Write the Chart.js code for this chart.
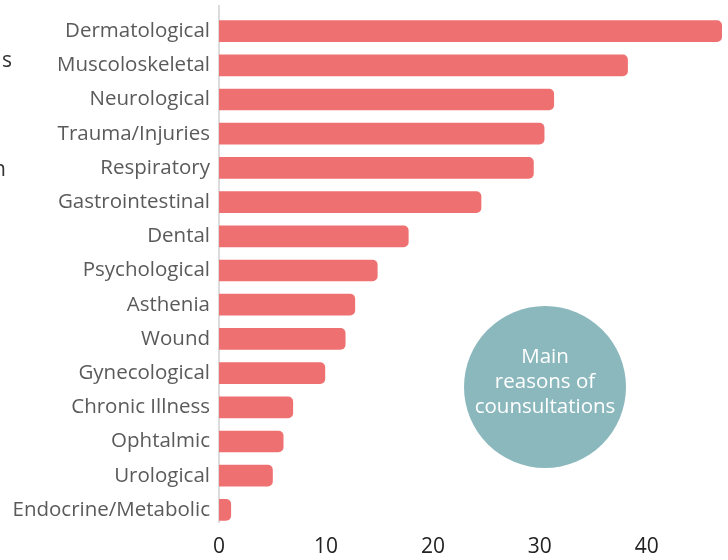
<!DOCTYPE html>
<html>
<head>
<meta charset="utf-8">
<script src="https://cdn.jsdelivr.net/npm/chart.js@4"></script>
<style>
  html, body { margin: 0; padding: 0; background: #fff; }
  #wrap { width: 728px; height: 560px; position: relative; }
</style>
</head>
<body>
<div id="wrap"><canvas id="bar-chart"></canvas></div>
<script>
const reasons = ["Dermatological", "Muscoloskeletal", "Neurological", "Trauma/Injuries",
  "Respiratory", "Gastrointestinal", "Dental", "Psychological", "Asthenia", "Wound",
  "Gynecological", "Chronic Illness", "Ophtalmic", "Urological", "Endocrine/Metabolic"];
const counts = [47, 38.2, 31.3, 30.4, 29.4, 24.5, 17.7, 14.8, 12.7, 11.8, 9.9, 6.9, 6.0, 5.0, 1.1];
const xTicks = [0, 10, 20, 30, 40];
const bubbleLines = ["Main", "reasons of", "counsultations"];

const FONT = "'Open Sans', sans-serif";

// axis line, teal bubble + clipped text bits on the left edge
const extras = {
  id: 'extras',
  beforeDatasetsDraw(chart) {
    const ctx = chart.ctx, a = chart.chartArea;
    const x0 = chart.scales.x.getPixelForValue(0);
    ctx.save();
    ctx.strokeStyle = '#d0d0d0';
    ctx.lineWidth = 1.5;
    ctx.beginPath();
    ctx.moveTo(x0, a.top - 9);
    ctx.lineTo(x0, a.bottom - 4);
    ctx.stroke();
    ctx.restore();
  },
  afterDraw(chart) {
    const ctx = chart.ctx;
    ctx.save();
    ctx.fillStyle = '#8bb8bd';
    ctx.beginPath();
    ctx.arc(545, 387, 81, 0, Math.PI * 2);
    ctx.fill();
    ctx.fillStyle = '#fff';
    ctx.font = "20.5px " + FONT;
    ctx.textAlign = 'center';
    ctx.textBaseline = 'middle';
    bubbleLines.forEach((l, i) => ctx.fillText(l, 545, 357 + i * 25));

    ctx.fillStyle = '#333';
    ctx.textAlign = 'right';
    ctx.font = "21px " + FONT;
    ctx.fillText('s', 12, 61);
    ctx.fillText('n', 6, 170);
    ctx.restore();
  }
};

new Chart(document.getElementById("bar-chart"), {
  type: 'bar',
  data: {
    labels: reasons,
    datasets: [{
      data: counts,
      backgroundColor: '#ef7070',
      borderRadius: 5,
      barThickness: 21
    }]
  },
  options: {
    indexAxis: 'y',
    responsive: true,
    maintainAspectRatio: false,
    animation: false,
    layout: { padding: { top: 14, right: 1, left: 0, bottom: 0 } },
    plugins: { legend: { display: false }, tooltip: { enabled: false } },
    scales: {
      x: {
        min: 0,
        max: 47.5,
        afterBuildTicks(scale) { scale.ticks = xTicks.map(v => ({ value: v })); },
        afterFit(scale) { scale.height = 33; },
        grid: { display: false, drawTicks: false },
        border: { display: false },
        ticks: { color: '#222', font: { family: FONT, size: 21 }, padding: 7 }
      },
      y: {
        afterFit(scale) {
          scale.width = 219;
          scale.paddingTop = 0;
          scale.paddingBottom = 0;
        },
        grid: { display: false, drawTicks: false },
        border: { display: false },
        ticks: { color: '#5a5a5a', font: { family: FONT, size: 20.5 }, padding: 9 }
      }
    }
  },
  plugins: [extras]
});
</script>
</body>
</html>
